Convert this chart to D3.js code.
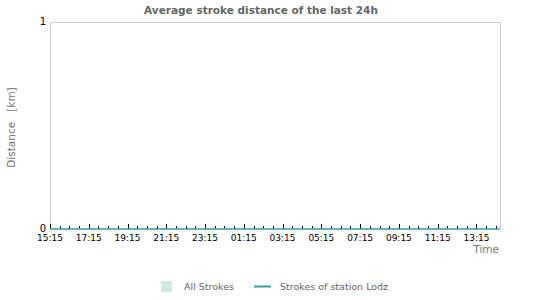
<!DOCTYPE html>
<html>
<head>
<meta charset="utf-8">
<script src="https://cdn.jsdelivr.net/npm/d3@7"></script>
<style>
  body { margin: 0; background: #fff; }
  svg { display: block; font-family: 'DejaVu Sans', sans-serif; }
</style>
</head>
<body>
<svg id="chart"></svg>
<script>
// time window shown (24h ending at render time)
const startTime = '2024-01-01 15:15';
const endTime = '2024-01-02 14:28';

// y axis ticks
const yTicks = [0, 1];

// all strokes: hourly average distance (km), nothing recorded
const allTimes = ['2024-01-01 15:15', '2024-01-01 16:15', '2024-01-01 17:15', '2024-01-01 18:15',
  '2024-01-01 19:15', '2024-01-01 20:15', '2024-01-01 21:15', '2024-01-01 22:15',
  '2024-01-01 23:15', '2024-01-02 00:15', '2024-01-02 01:15', '2024-01-02 02:15',
  '2024-01-02 03:15', '2024-01-02 04:15', '2024-01-02 05:15', '2024-01-02 06:15',
  '2024-01-02 07:15', '2024-01-02 08:15', '2024-01-02 09:15', '2024-01-02 10:15',
  '2024-01-02 11:15', '2024-01-02 12:15', '2024-01-02 13:15', '2024-01-02 14:15',
  '2024-01-02 14:28'];
const allValues = [0, 0, 0, 0, 0, 0, 0, 0, 0, 0, 0, 0, 0, 0, 0, 0, 0, 0, 0, 0, 0, 0, 0, 0, 0];

// strokes of station Lodz, same times
const lodzValues = [0, 0, 0, 0, 0, 0, 0, 0, 0, 0, 0, 0, 0, 0, 0, 0, 0, 0, 0, 0, 0, 0, 0, 0, 0];

const legendLabels = ['All Strokes', 'Strokes of station Lodz'];

const width = 550;
const height = 300;
const margin = { top: 22, right: 50, bottom: 71, left: 50 };
const parse = d3.timeParse('%Y-%m-%d %H:%M');

const x = d3.scaleTime()
  .domain([parse(startTime), parse(endTime)])
  .range([margin.left, width - margin.right]);

const y = d3.scaleLinear()
  .domain([0, 1])
  .range([height - margin.bottom, margin.top]);

const svg = d3.select('#chart')
  .attr('width', width)
  .attr('height', height);

const allSeries = allTimes.map((t, i) => ({ date: parse(t), value: allValues[i] }));
const lodzSeries = allTimes.map((t, i) => ({ date: parse(t), value: lodzValues[i] }));

// plot frame
svg.append('path')
  .attr('fill', 'none')
  .attr('stroke', '#cccccc')
  .attr('d', `M${margin.left + 0.5},${y(0)}V${margin.top + 0.5}H${width - margin.right + 0.5}V${y(0)}`);

// all strokes area
svg.append('path')
  .datum(allSeries)
  .attr('fill', '#d0e8e2')
  .attr('d', d3.area().x(d => x(d.date)).y0(y(0)).y1(d => y(d.value)));

// x axis ticks, every half hour at :15 / :45
const isMajor = d => d.getHours() % 2 === 1 && d.getMinutes() === 15;
const minor = d3.timeMinute.every(15)
  .range(x.domain()[0], x.domain()[1])
  .filter(d => d.getMinutes() % 30 === 15);

svg.append('g')
  .selectAll('line')
  .data(minor)
  .join('line')
  .attr('x1', d => Math.round(x(d)) + 0.5)
  .attr('x2', d => Math.round(x(d)) + 0.5)
  .attr('y1', y(0))
  .attr('y2', d => y(0) - (isMajor(d) ? 5 : 3))
  .attr('stroke', '#000');

svg.append('g')
  .attr('font-size', 9)
  .attr('text-anchor', 'middle')
  .selectAll('text')
  .data(minor.filter(isMajor))
  .join('text')
  .attr('x', d => x(d))
  .attr('y', y(0) + 12)
  .text(d3.timeFormat('%H:%M'));

// lodz line
svg.append('path')
  .datum(lodzSeries)
  .attr('fill', 'none')
  .attr('stroke', '#3a9a9a')
  .attr('stroke-width', 1.5)
  .attr('d', d3.line().x(d => x(d.date)).y(d => y(d.value)));

// y tick labels
svg.append('g')
  .attr('font-size', 10)
  .attr('text-anchor', 'end')
  .selectAll('text')
  .data(yTicks)
  .join('text')
  .attr('x', margin.left - 4)
  .attr('y', d => y(d))
  .attr('dy', '0.32em')
  .text(d => d);

// title
svg.append('text')
  .attr('x', 261)
  .attr('y', 14)
  .attr('text-anchor', 'middle')
  .attr('font-size', 10.5)
  .attr('font-weight', 'bold')
  .attr('fill', '#666')
  .text('Average stroke distance of the last 24h');

// axis titles
svg.append('text')
  .attr('transform', `translate(15,${(margin.top + y(0)) / 2 + 2}) rotate(-90)`)
  .attr('text-anchor', 'middle')
  .attr('font-size', 10.5)
  .attr('fill', '#777')
  .attr('xml:space', 'preserve')
  .style('white-space', 'pre')
  .text('Distance   [km]');

svg.append('text')
  .attr('x', width - margin.right - 1)
  .attr('y', 253)
  .attr('text-anchor', 'end')
  .attr('font-size', 10.5)
  .attr('fill', '#777')
  .text('Time');

// legend
const legend = svg.append('g')
  .attr('font-size', 9.5)
  .attr('fill', '#666');

legend.append('rect')
  .attr('x', 161).attr('y', 281).attr('width', 11).attr('height', 11)
  .attr('fill', '#d0e8e2');
legend.append('text')
  .attr('x', 184).attr('y', 290).text(legendLabels[0]);
legend.append('line')
  .attr('x1', 254).attr('x2', 271).attr('y1', 286.5).attr('y2', 286.5)
  .attr('stroke', '#3a9a9a').attr('stroke-width', 2);
legend.append('text')
  .attr('x', 280).attr('y', 290).text(legendLabels[1]);
</script>
</body>
</html>
